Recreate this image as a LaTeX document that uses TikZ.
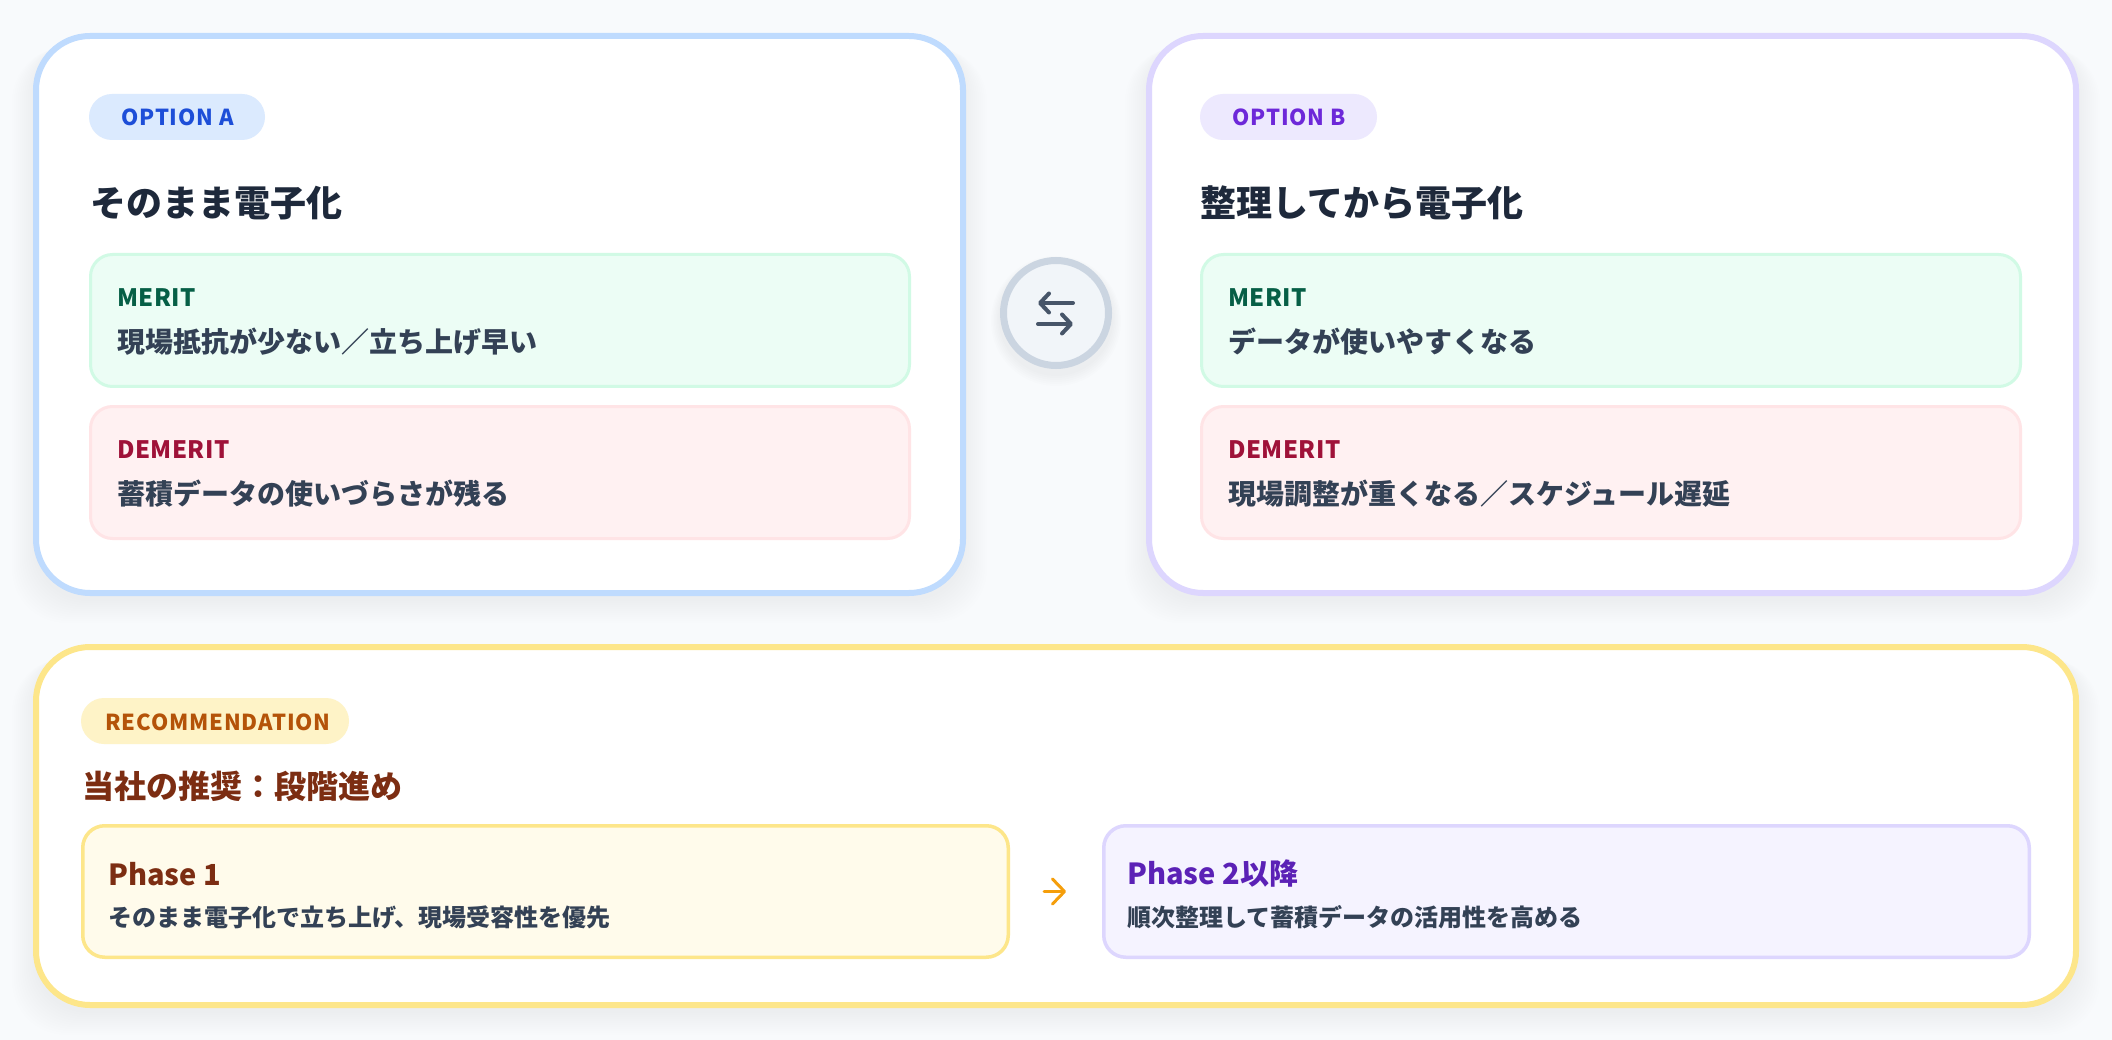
\documentclass[tikz,border=0pt]{standalone}
\usepackage{fontspec}
\setmainfont{Noto Sans CJK JP}
\newfontfamily\jpf{Noto Sans CJK JP}
\newfontfamily\jpls{Noto Sans CJK JP}[LetterSpace=4]
\newfontfamily\jplm{Noto Sans CJK JP}[LetterSpace=2]
\usetikzlibrary{arrows.meta}
\definecolor{bgc}{HTML}{F8FAFC}
\definecolor{cardAb}{HTML}{BFDBFE}
\definecolor{cardBb}{HTML}{DDD6FE}
\definecolor{pillA}{HTML}{DBEAFE}
\definecolor{pillAt}{HTML}{1D4ED8}
\definecolor{pillB}{HTML}{EDE9FE}
\definecolor{pillBt}{HTML}{6D28D9}
\definecolor{titlec}{HTML}{1E293B}
\definecolor{bodyc}{HTML}{334155}
\definecolor{meritf}{HTML}{ECFDF5}
\definecolor{meritb}{HTML}{D1FAE5}
\definecolor{meritt}{HTML}{065F46}
\definecolor{demf}{HTML}{FFF1F2}
\definecolor{demb}{HTML}{FFE4E6}
\definecolor{demt}{HTML}{9F1239}
\definecolor{swapf}{HTML}{F1F5F9}
\definecolor{swapb}{HTML}{CBD5E1}
\definecolor{swapa}{HTML}{475569}
\definecolor{recb}{HTML}{FDE68A}
\definecolor{recp}{HTML}{FEF3C7}
\definecolor{recpt}{HTML}{B45309}
\definecolor{rect}{HTML}{7C2D12}
\definecolor{ph1f}{HTML}{FFFBEB}
\definecolor{ph2f}{HTML}{F5F3FF}
\definecolor{ph2t}{HTML}{5B21B6}
\definecolor{arrc}{HTML}{F59E0B}
\newcommand\myshadow[5]{%
  \foreach \k in {1,...,12}{%
    \fill[black, opacity=0.0055, rounded corners=#5] ({#1-\k*2},{#2+4+\k*0.6}) rectangle ({#3+\k*2},{#4+6+\k*2});
  }}
\tikzset{
  card/.style={draw, line width=6pt, fill=white, rounded corners=54pt, inner sep=0pt},
  pillbox/.style={rounded corners=23pt, minimum height=46pt, inner sep=0pt},
  ibox/.style={draw, line width=3pt, rounded corners=22pt, inner sep=0pt, minimum width=819pt, minimum height=132pt},
  phbox/.style={draw=recb, line width=3.5pt, rounded corners=22pt, inner sep=0pt, minimum width=925.5pt, minimum height=131.5pt},
  pilltxt/.style={anchor=west, inner sep=0pt, font=\jpls\bfseries\fontsize{22}{24}\selectfont},
  title/.style={anchor=west, inner sep=0pt, text=titlec, font=\jpf\bfseries\fontsize{36}{40}\selectfont},
  lbl/.style={anchor=west, inner sep=0pt, font=\jplm\bfseries\fontsize{24}{26}\selectfont},
  body/.style={anchor=west, inner sep=0pt, text=bodyc, font=\jpf\bfseries\fontsize{28}{30}\selectfont},
  phtitle/.style={anchor=west, inner sep=0pt, font=\jpf\bfseries\fontsize{29}{32}\selectfont},
  phbody/.style={anchor=west, inner sep=0pt, text=bodyc, font=\jpf\bfseries\fontsize{24}{26}\selectfont},
}
\begin{document}
\begin{tikzpicture}[x=1pt,y=-1pt]
\fill[bgc] (0,0) rectangle (2112,1040);
\useasboundingbox (0,0) rectangle (2112,1040);
% shadows
\myshadow{36}{36}{963}{593}{54pt}
\myshadow{1149}{36}{2076}{593}{54pt}
\myshadow{36}{647}{2076}{1005}{54pt}
% cards
\node[card, draw=cardAb, minimum width=927pt, minimum height=557pt] (cardA) at (499.5,314.5) {};
\node[card, draw=cardBb, minimum width=927pt, minimum height=557pt] (cardB) at (1612.5,314.5) {};
% swap circle
\foreach \k in {1,...,6}{\fill[black, opacity=0.006] (1056,{318+\k*0.5}) circle ({56+\k*1.5});}
\node[circle, draw=swapb, fill=swapf, line width=7pt, minimum size=105pt, inner sep=0pt] (swap) at (1056,313) {};
\coordinate (swL1) at (1038,303); \coordinate (swR1) at (1073,303);
\coordinate (swL2) at (1038,324); \coordinate (swR2) at (1073,324);
\draw[swapa, line width=4pt, line cap=round, -{Straight Barb[length=9pt,width=19pt,line cap=round,line join=round]}] (swR1) -- (swL1);
\draw[swapa, line width=4pt, line cap=round, -{Straight Barb[length=9pt,width=19pt,line cap=round,line join=round]}] (swL2) -- (swR2);
% option A
\node[pillbox, fill=pillA, minimum width=176pt] (pA) at (177,117) {};
\node[pilltxt, text=pillAt] (pAt) at (121,117) {OPTION A};
\node[title] (tA) at (90,203) {そのまま電子化};
\node[ibox, draw=meritb, fill=meritf] (mA) at (500,320.5) {};
\node[lbl, text=meritt] (mAl) at (117,298) {MERIT};
\node[body] (mAt) at (117,341.5) {現場抵抗が少ない／立ち上げ早い};
\node[ibox, draw=demb, fill=demf] (dA) at (500,472.5) {};
\node[lbl, text=demt] (dAl) at (117,450) {DEMERIT};
\node[body] (dAt) at (117,494) {蓄積データの使いづらさが残る};
% option B
\node[pillbox, fill=pillB, minimum width=177pt] (pB) at (1288.5,117) {};
\node[pilltxt, text=pillBt] (pBt) at (1232,117) {OPTION B};
\node[title] (tB) at (1200,203) {整理してから電子化};
\node[ibox, draw=meritb, fill=meritf] (mB) at (1611,320.5) {};
\node[lbl, text=meritt] (mBl) at (1228,298) {MERIT};
\node[body] (mBt) at (1228,341.5) {データが使いやすくなる};
\node[ibox, draw=demb, fill=demf] (dB) at (1611,472.5) {};
\node[lbl, text=demt] (dBl) at (1228,450) {DEMERIT};
\node[body] (dBt) at (1228,494) {現場調整が重くなる／スケジュール遅延};
% recommendation
\node[card, draw=recb, minimum width=2040pt, minimum height=358pt] (rec) at (1056,826) {};
\node[pillbox, fill=recp, minimum width=268pt] (rp) at (215,721) {};
\node[pilltxt, text=recpt] (rpt) at (105,722) {RECOMMENDATION};
\node[title, text=rect, font=\jpf\bfseries\fontsize{32}{36}\selectfont] (rt) at (82,786) {当社の推奨：段階進め};
\node[phbox, fill=ph1f] (ph1) at (545.5,891.5) {};
\node[phtitle, text=rect] (ph1t) at (108,874) {Phase 1};
\node[phbody] (ph1b) at (108,917) {そのまま電子化で立ち上げ、現場受容性を優先};
\node[phbox, draw=cardBb, fill=ph2f] (ph2) at (1566.5,891.5) {};
\node[phtitle, text=ph2t] (ph2t) at (1127,874) {Phase 2以降};
\node[phbody] (ph2b) at (1127,917) {順次整理して蓄積データの活用性を高める};
\draw[arrc, line width=3pt, line cap=round, shorten <=34pt, shorten >=36pt, -{Straight Barb[length=12pt,width=25pt,line cap=round,line join=round]}] (ph1.east) -- (ph2.west);
\end{tikzpicture}
\end{document}
